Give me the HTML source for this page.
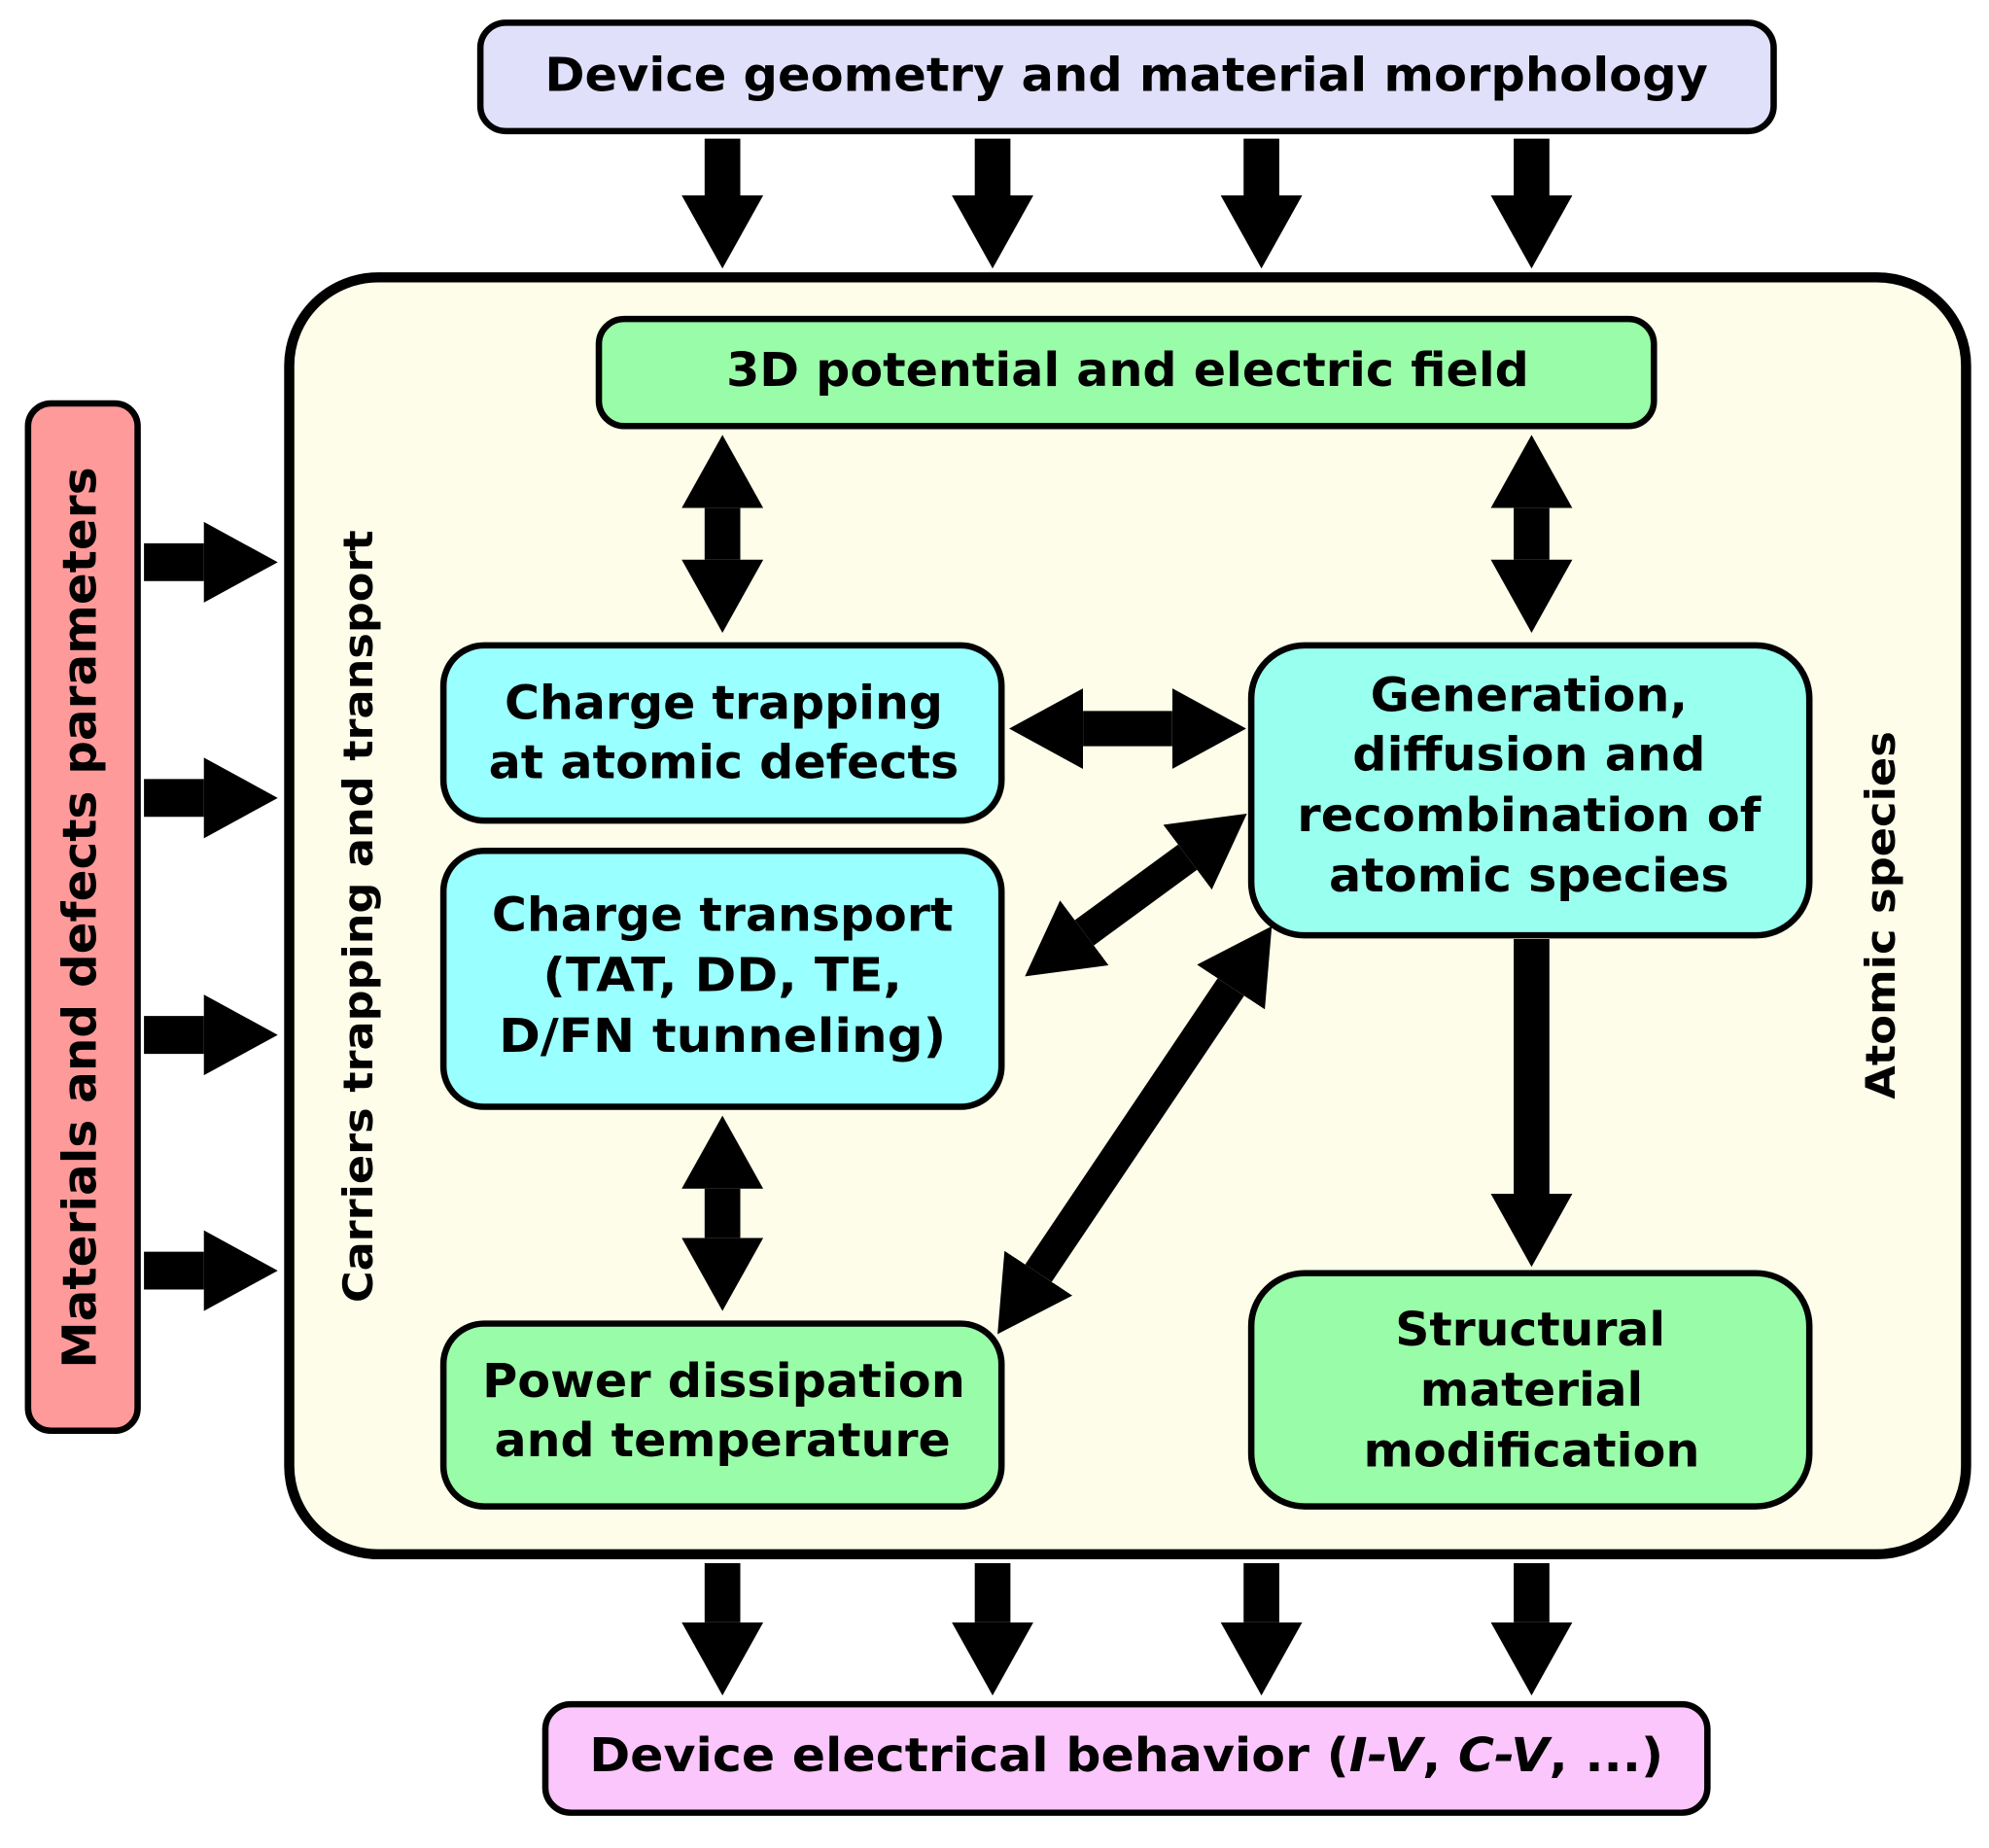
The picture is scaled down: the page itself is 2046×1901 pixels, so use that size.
<!DOCTYPE html>
<html><head><meta charset="utf-8"><style>
html,body{margin:0;padding:0;background:#fff;width:2046px;height:1901px;overflow:hidden}
svg{display:block}
text{font-family:"DejaVu Sans","Liberation Sans",sans-serif;font-weight:bold;fill:#000;text-anchor:middle;dominant-baseline:central}
</style></head><body>
<svg width="2046" height="1901" viewBox="0 0 1561 1466" preserveAspectRatio="none" xmlns="http://www.w3.org/2000/svg">
<defs>
<marker id="h" viewBox="0 0 58 64" markerWidth="58" markerHeight="64" markerUnits="userSpaceOnUse" refX="0" refY="32" orient="auto-start-reverse">
<path d="M0,0 L58,32 L0,64 Z" fill="#000"/>
</marker>
</defs>
<g stroke="#000" stroke-width="5">
<rect x="377" y="18" width="1015" height="86" rx="20" fill="#e0e0fb"/>
<rect x="227" y="220" width="1316" height="1013" rx="70" fill="#fdfde9" stroke-width="8"/>
<rect x="470" y="253" width="828" height="85" rx="20" fill="#99fca8"/>
<rect x="22" y="320" width="86" height="815" rx="18" fill="#fe9a9a"/>
<rect x="348" y="512" width="438" height="139" rx="32" fill="#99ffff"/>
<rect x="348" y="675" width="438" height="203" rx="32" fill="#99ffff"/>
<rect x="982" y="512" width="438" height="230" rx="42" fill="#99ffee"/>
<rect x="348" y="1050" width="438" height="145" rx="32" fill="#99fca8"/>
<rect x="982" y="1010" width="438" height="185" rx="42" fill="#99fca8"/>
<rect x="428" y="1352" width="912" height="86" rx="20" fill="#fbc6fb"/>
</g>
<g stroke="#000" stroke-width="28" fill="none">
<line x1="567" y1="110" x2="567" y2="155" marker-end="url(#h)"/>
<line x1="779" y1="110" x2="779" y2="155" marker-end="url(#h)"/>
<line x1="990" y1="110" x2="990" y2="155" marker-end="url(#h)"/>
<line x1="1202" y1="110" x2="1202" y2="155" marker-end="url(#h)"/>
<line x1="567" y1="1240" x2="567" y2="1287" marker-end="url(#h)"/>
<line x1="779" y1="1240" x2="779" y2="1287" marker-end="url(#h)"/>
<line x1="990" y1="1240" x2="990" y2="1287" marker-end="url(#h)"/>
<line x1="1202" y1="1240" x2="1202" y2="1287" marker-end="url(#h)"/>
<g stroke-width="30">
<line x1="113" y1="446" x2="160" y2="446" marker-end="url(#h)"/>
<line x1="113" y1="633" x2="160" y2="633" marker-end="url(#h)"/>
<line x1="113" y1="821" x2="160" y2="821" marker-end="url(#h)"/>
<line x1="113" y1="1008" x2="160" y2="1008" marker-end="url(#h)"/>
</g>
<line x1="567" y1="403" x2="567" y2="444" marker-start="url(#h)" marker-end="url(#h)"/>
<line x1="1202" y1="403" x2="1202" y2="444" marker-start="url(#h)" marker-end="url(#h)"/>
<line x1="567" y1="943" x2="567" y2="982" marker-start="url(#h)" marker-end="url(#h)"/>
<line x1="850" y1="578" x2="920" y2="578" marker-start="url(#h)" marker-end="url(#h)"/>
<line x1="1202" y1="745" x2="1202" y2="947" marker-end="url(#h)"/>
<g stroke-width="25">
<line x1="851" y1="740" x2="932" y2="680" marker-start="url(#h)" marker-end="url(#h)"/>
<line x1="815" y1="1010" x2="966" y2="783" marker-start="url(#h)" marker-end="url(#h)"/>
</g>
</g>
<g font-size="37">
<text x="884" y="60" textLength="913" lengthAdjust="spacingAndGlyphs">Device geometry and material morphology</text>
<text x="885" y="294" textLength="630" lengthAdjust="spacingAndGlyphs">3D potential and electric field</text>
<text x="568" y="558" textLength="344" lengthAdjust="spacingAndGlyphs">Charge trapping</text>
<text x="568" y="605" textLength="369" lengthAdjust="spacingAndGlyphs">at atomic defects</text>
<text x="567" y="726" textLength="362" lengthAdjust="spacingAndGlyphs">Charge transport</text>
<text x="567" y="774" textLength="282" lengthAdjust="spacingAndGlyphs">(TAT, DD, TE,</text>
<text x="567" y="822" textLength="351" lengthAdjust="spacingAndGlyphs">D/FN tunneling)</text>
<text x="1200" y="552" textLength="249" lengthAdjust="spacingAndGlyphs">Generation,</text>
<text x="1200" y="599" textLength="277" lengthAdjust="spacingAndGlyphs">diffusion and</text>
<text x="1200" y="647" textLength="364" lengthAdjust="spacingAndGlyphs">recombination of</text>
<text x="1200" y="695" textLength="314" lengthAdjust="spacingAndGlyphs">atomic species</text>
<text x="568" y="1096" textLength="379" lengthAdjust="spacingAndGlyphs">Power dissipation</text>
<text x="567" y="1143" textLength="358" lengthAdjust="spacingAndGlyphs">and temperature</text>
<text x="1201" y="1055" textLength="212" lengthAdjust="spacingAndGlyphs">Structural</text>
<text x="1202" y="1103" textLength="175" lengthAdjust="spacingAndGlyphs">material</text>
<text x="1202" y="1151" textLength="264" lengthAdjust="spacingAndGlyphs">modification</text>
<text x="884" y="1393" textLength="843" lengthAdjust="spacingAndGlyphs">Device electrical behavior (<tspan font-style="italic">I-V</tspan>, <tspan font-style="italic">C-V</tspan>, ...)</text>
<text transform="translate(63,728) rotate(-90)" textLength="715" lengthAdjust="spacingAndGlyphs">Materials and defects parameters</text>
</g>
<text font-size="32" transform="translate(281,727) rotate(-90)" textLength="613" lengthAdjust="spacingAndGlyphs">Carriers trapping and transport</text>
<text font-size="32" transform="translate(1476,726) rotate(-90)" textLength="292" lengthAdjust="spacingAndGlyphs">Atomic species</text>
</svg>
</body></html>
